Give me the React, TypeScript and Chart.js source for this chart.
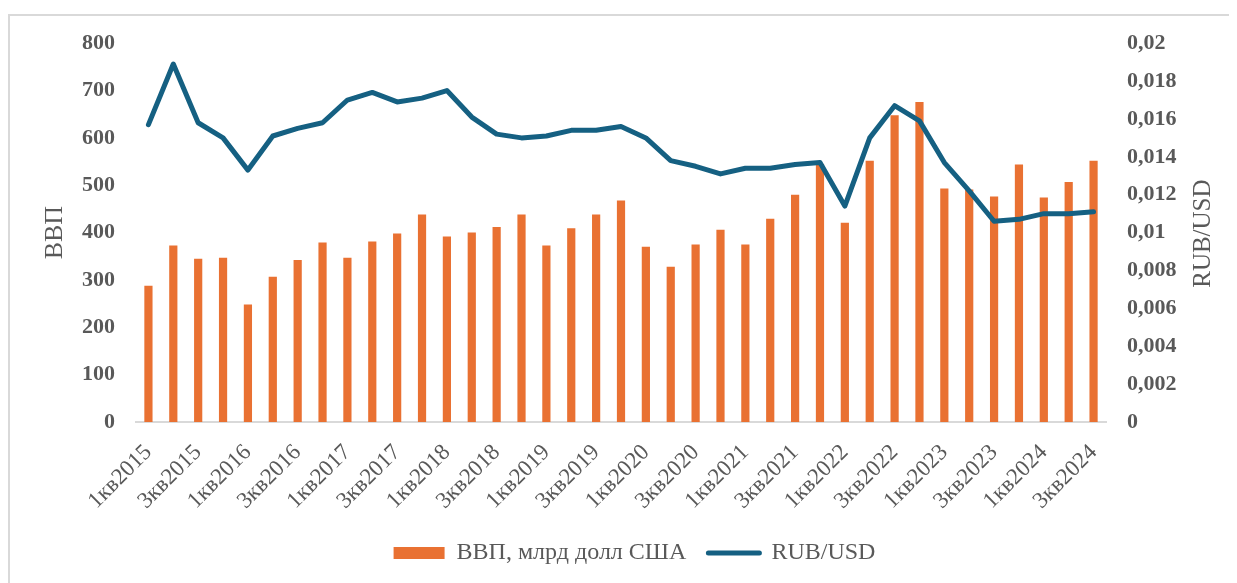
import React, { useEffect, useRef } from "react";
import { Chart, registerables } from "chart.js";

Chart.register(...registerables);

const years = [2015, 2016, 2017, 2018, 2019, 2020, 2021, 2022, 2023, 2024];
const quarters = [1, 2, 3, 4];
const categories: string[] = [];
years.forEach((y) =>
  quarters.forEach((q) => {
    if (y === 2024 && q === 4) return;
    categories.push(`${q}кв${y}`);
  })
);

const gdpValues = [
  288, 373, 345, 347, 248, 307, 342, 379, 347, 381, 398, 438, 392, 400, 412,
  438, 373, 409, 438, 468, 370, 328, 375, 406, 375, 429, 480, 545, 421, 552,
  648, 676, 493, 491, 476, 544, 474, 507, 552,
];

const rubUsdValues = [
  0.0157, 0.0189, 0.0158, 0.015, 0.0133, 0.0151, 0.0155, 0.0158, 0.017, 0.0174,
  0.0169, 0.0171, 0.0175, 0.0161, 0.0152, 0.015, 0.0151, 0.0154, 0.0154,
  0.0156, 0.015, 0.0138, 0.0135, 0.0131, 0.0134, 0.0134, 0.0136, 0.0137,
  0.0114, 0.015, 0.0167, 0.0159, 0.0137, 0.0122, 0.0106, 0.0107, 0.011, 0.011,
  0.0111,
];

const gdpLabel = "ВВП, млрд долл США";
const rubLabel = "RUB/USD";
const leftTitle = "ВВП";
const rightTitle = "RUB/USD";

const ORANGE = "#E97132";
const BLUE = "#156082";
const GRAY = "#595959";
const SERIF = "'Liberation Serif', 'Times New Roman', serif";

const rightTitlePlugin = {
  id: "rightTitle",
  afterDraw(chart: any) {
    const ctx = chart.ctx;
    const area = chart.chartArea;
    ctx.save();
    ctx.translate(1193, (area.top + area.bottom) / 2 + 1);
    ctx.rotate(-Math.PI / 2);
    ctx.font = `25px ${SERIF}`;
    ctx.fillStyle = GRAY;
    ctx.textAlign = "center";
    ctx.textBaseline = "middle";
    ctx.fillText(rightTitle, 0, 0);
    ctx.restore();
  },
};

export default function App() {
  const ref = useRef<HTMLCanvasElement | null>(null);

  useEffect(() => {
    if (!ref.current) return;
    const chart = new Chart(ref.current, {
      type: "bar",
      data: {
        labels: categories,
        datasets: [
          {
            type: "bar",
            label: gdpLabel,
            data: gdpValues,
            backgroundColor: ORANGE,
            borderWidth: 0,
            barPercentage: 0.33,
            categoryPercentage: 1,
            yAxisID: "y",
            order: 2,
          },
          {
            type: "line",
            label: rubLabel,
            data: rubUsdValues,
            borderColor: BLUE,
            backgroundColor: BLUE,
            borderWidth: 5,
            pointRadius: 0,
            tension: 0,
            borderJoinStyle: "round",
            borderCapStyle: "round",
            yAxisID: "y1",
            order: 1,
          } as any,
        ],
      },
      options: {
        responsive: false,
        animation: false,
        devicePixelRatio: 1,
        layout: { padding: { left: 0, right: 0, top: 19, bottom: 34 } },
        plugins: {
          tooltip: { enabled: false },
          legend: {
            position: "bottom",
            labels: {
              usePointStyle: true,
              pointStyleWidth: 51,
              boxHeight: 12,
              padding: 22,
              color: GRAY,
              font: { family: SERIF, size: 24 },
              generateLabels: () => [
                {
                  text: gdpLabel,
                  fillStyle: ORANGE,
                  strokeStyle: ORANGE,
                  lineWidth: 0,
                  pointStyle: "rect",
                  hidden: false,
                  datasetIndex: 0,
                  fontColor: GRAY,
                },
                {
                  text: rubLabel,
                  fillStyle: BLUE,
                  strokeStyle: BLUE,
                  lineWidth: 5,
                  lineCap: "round",
                  pointStyle: "line",
                  hidden: false,
                  datasetIndex: 1,
                  fontColor: GRAY,
                },
              ],
            },
          },
        },
        scales: {
          x: {
            grid: { display: false, drawTicks: false },
            border: { display: true, color: "#D9D9D9", width: 2 },
            ticks: {
              autoSkip: false,
              maxRotation: 45,
              minRotation: 45,
              padding: 17,
              color: GRAY,
              font: { family: SERIF, size: 23 },
              callback: (_v: any, i: number) => (i % 2 === 0 ? categories[i] : ""),
            },
            afterFit: (s: any) => {
              s.height = 97;
            },
          },
          y: {
            position: "left",
            min: 0,
            max: 800,
            grid: { display: false, drawTicks: false },
            border: { display: false },
            ticks: {
              stepSize: 100,
              padding: 21,
              color: GRAY,
              font: { family: SERIF, size: 22, weight: "bold" },
            },
            title: {
              display: true,
              text: leftTitle,
              color: GRAY,
              font: { family: SERIF, size: 26 },
              padding: { top: 30, bottom: 0 },
            },
            afterFit: (s: any) => {
              s.width = 126;
            },
          },
          y1: {
            position: "right",
            min: 0,
            max: 0.02,
            grid: { display: false, drawTicks: false },
            border: { display: false },
            ticks: {
              stepSize: 0.002,
              padding: 21,
              color: GRAY,
              font: { family: SERIF, size: 22, weight: "bold" },
              callback: (v: any) => {
                const n = Number(v);
                if (Math.abs(n) < 1e-9) return "0";
                return parseFloat(n.toFixed(3)).toString().replace(".", ",");
              },
            },
            afterFit: (s: any) => {
              s.width = 153;
            },
          },
        },
      },
      plugins: [rightTitlePlugin],
    } as any);
    return () => chart.destroy();
  }, []);

  return (
    <div
      style={{
        marginTop: 6,
        width: 1227,
        height: 567,
        overflow: "hidden",
        borderTop: "2px solid #D9D9D9",
        borderLeft: "2px solid #D9D9D9",
        background: "#fff",
      }}
    >
      <canvas
        ref={ref}
        width={1249}
        height={600}
        style={{ width: 1249, height: 600, display: "block", marginTop: -7 }}
      />
    </div>
  );
}
